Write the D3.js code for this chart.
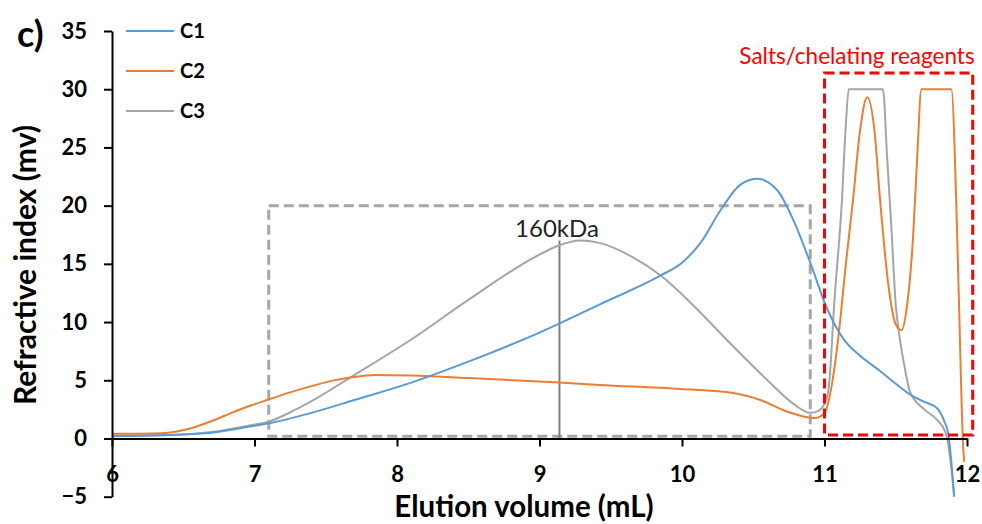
<!DOCTYPE html>
<html><head><meta charset="utf-8">
<script src="https://cdn.jsdelivr.net/npm/d3@7"></script>
<style>body{margin:0;background:#fff}svg{display:block}</style>
</head><body>
<svg id="c" width="982" height="524"></svg>
<script>
const seriesNames = ["C1","C2","C3"];
const seriesColors = ["#5b9bd5","#ed7d31","#a5a5a5"];
const xTicks = [6,7,8,9,10,11,12];
const yTicks = [-5,0,5,10,15,20,25,30,35];

const c1 = [[6.0,0.2],[6.4,0.3],[6.7,0.5],[6.98,1.05],[7.1,1.3],[7.4,2.2],[7.7,3.3],[8.1,4.8],[8.5,6.6],[9.0,9.1],[9.42,11.5],[9.85,14.0],[10.0,15.1],[10.13,16.8],[10.27,19.6],[10.41,21.8],[10.53,22.3],[10.67,21.3],[10.78,18.8],[10.9,15.1],[11.02,11.1],[11.13,8.6],[11.25,7.1],[11.39,5.8],[11.5,4.7],[11.61,3.7],[11.7,3.15],[11.79,2.6],[11.84,1.5],[11.87,0.3],[11.89,-2],[11.91,-5]];
const c2 = [[6.0,0.4],[6.35,0.45],[6.56,0.9],[6.7,1.5],[6.84,2.2],[6.98,2.85],[7.1,3.35],[7.26,4.0],[7.4,4.5],[7.54,4.95],[7.68,5.25],[7.85,5.45],[8.1,5.4],[8.5,5.2],[9.14,4.8],[9.42,4.6],[9.99,4.25],[10.36,3.9],[10.55,3.3],[10.74,2.3],[10.87,1.85],[10.93,1.75],[11.0,2.2],[11.05,4.5],[11.1,9],[11.15,15],[11.2,20.5],[11.25,26.5],[11.3,29.3],[11.35,26.5],[11.39,20.5],[11.45,13],[11.5,9.8],[11.54,9.3],[11.58,11.5],[11.62,17],[11.65,24],[11.68,30],[11.89,30],[11.93,18],[11.96,4],[11.97,0],[11.98,-2]];
const c3 = [[6.0,0.25],[6.4,0.3],[6.7,0.55],[6.98,1.15],[7.1,1.45],[7.26,2.3],[7.4,3.2],[7.68,5.3],[8.1,8.5],[8.5,11.9],[9.0,15.8],[9.14,16.6],[9.28,17.0],[9.42,16.8],[9.65,15.6],[9.85,14.0],[9.99,12.5],[10.13,10.8],[10.36,7.9],[10.6,5.0],[10.78,3.0],[10.9,2.2],[10.96,2.4],[11.0,3.0],[11.03,4.4],[11.07,11.9],[11.12,20],[11.15,27],[11.17,30],[11.41,30],[11.44,24],[11.47,18],[11.5,11.5],[11.52,9.3],[11.56,6.3],[11.6,4.0],[11.7,2.5],[11.79,1.6],[11.85,0.5],[11.88,-1.5],[11.91,-5]];
const seriesData = [c1,c2,c3];

const markerX = 9.14, markerTop = 17, markerLabel = "160kDa";
const grayBox = [7.1,10.9,0.2,20];
const redBox = [11.0,12.04,0.3,31.4];
const redLabel = "Salts/chelating reagents";

const svg = d3.select("#c");
const font = "Lato, 'Open Sans', sans-serif";
const x = d3.scaleLinear([6,12],[112,967]);
const y = d3.scaleLinear([-5,35],[496.7,31]);

svg.append("rect").attr("x",x(grayBox[0])).attr("y",y(grayBox[3]))
  .attr("width",x(grayBox[1])-x(grayBox[0])).attr("height",y(grayBox[2])-y(grayBox[3]))
  .attr("fill","none").attr("stroke","#a6a6a6").attr("stroke-width",3).attr("stroke-dasharray","10,5");

svg.append("line").attr("x1",x(markerX)).attr("x2",x(markerX)).attr("y1",y(0)).attr("y2",y(markerTop))
  .attr("stroke","#7f7f7f").attr("stroke-width",2);
svg.append("text").attr("x",557).attr("y",237).attr("text-anchor","middle")
  .attr("font-family",font).attr("font-size",24).attr("fill","#222").text(markerLabel);

const line = d3.line().x(d=>x(d[0])).y(d=>y(d[1])).curve(d3.curveMonotoneX);
[2,1,0].forEach(i=>{
  svg.append("path").attr("d",line(seriesData[i])).attr("fill","none")
    .attr("stroke",seriesColors[i]).attr("stroke-width",2);
});

svg.append("rect").attr("x",x(redBox[0])).attr("y",y(redBox[3]))
  .attr("width",x(redBox[1])-x(redBox[0])).attr("height",y(redBox[2])-y(redBox[3]))
  .attr("fill","none").attr("stroke","#ff0000").attr("stroke-width",3).attr("stroke-dasharray","10,5");
svg.append("text").attr("x",857).attr("y",64).attr("text-anchor","middle")
  .attr("font-family",font).attr("font-size",22.5).attr("fill","#ff0000").text(redLabel);

const gx = svg.append("g").attr("transform",`translate(0,${y(0)})`)
  .call(d3.axisBottom(x).tickValues(xTicks).tickSize(8).tickSizeOuter(0).tickFormat(d3.format("d")));
const gy = svg.append("g").attr("transform",`translate(${x(6)},0)`)
  .call(d3.axisLeft(y).tickValues(yTicks).tickSize(8).tickSizeOuter(0).tickFormat(d3.format("d")));
[gx,gy].forEach(g=>{
  g.select(".domain").attr("stroke","#000").attr("stroke-width",2);
  g.selectAll(".tick line").attr("stroke","#000").attr("stroke-width",2);
  g.selectAll("text").attr("font-family",font).attr("font-size",22).attr("font-weight","bold").attr("fill","#000");
});
gx.selectAll("text").attr("y",44).attr("dy",0);
gy.selectAll("text").attr("x",-25);

svg.append("text").attr("x",17).attr("y",47).attr("font-family",font).attr("font-size",36)
  .attr("font-weight","bold").text("c)");
svg.append("text").attr("transform","translate(36,265) rotate(-90)").attr("text-anchor","middle")
  .attr("font-family",font).attr("font-size",30).attr("font-weight","bold").text("Refractive index (mv)");
svg.append("text").attr("x",524).attr("y",517).attr("text-anchor","middle")
  .attr("font-family",font).attr("font-size",29.5).attr("font-weight","bold").text("Elution volume (mL)");

seriesNames.forEach((n,i)=>{
  const ly = 31 + i*40;
  svg.append("line").attr("x1",126).attr("x2",174).attr("y1",ly).attr("y2",ly)
    .attr("stroke",seriesColors[i]).attr("stroke-width",2);
  svg.append("text").attr("x",180).attr("y",ly+7).attr("font-family",font).attr("font-size",20)
    .attr("font-weight","bold").text(n);
});
</script>
</body></html>
